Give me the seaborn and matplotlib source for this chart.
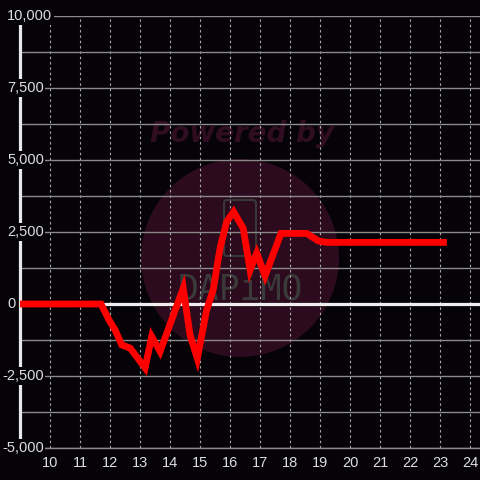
import matplotlib
matplotlib.use("Agg")
import matplotlib.pyplot as plt
import matplotlib.transforms as mtransforms
from matplotlib.patches import Circle, FancyBboxPatch
import seaborn as sns

# values
x_vals = [8.92, 11.70, 11.97, 12.17, 12.39, 12.67, 13.17, 13.39, 13.67, 14.44,
          14.67, 14.91, 15.22, 15.44, 15.67, 15.89, 16.12, 16.44, 16.67, 16.89,
          17.17, 17.70, 18.56, 18.94, 19.22, 23.23]
y_vals = [0, 0, -560, -900, -1420, -1530, -2220, -1130, -1650, 545,
          -1080, -1890, -210, 490, 1945, 2860, 3200, 2630, 1180, 1760,
          980, 2450, 2450, 2190, 2140, 2140]

x_ticks = list(range(10, 25))
y_grid = list(range(-5000, 10001, 1250))
y_labels = [-5000, -2500, 0, 2500, 5000, 7500, 10000]

bg = "#050307"
label_col = "#dddddd"

sns.set_theme(style="dark")
plt.rcParams["font.family"] = ["Liberation Sans", "DejaVu Sans"]

fig = plt.figure(figsize=(4.8, 4.8), dpi=100, facecolor=bg)
ax = fig.add_axes([20 / 480, 32 / 480, 460 / 480, 432 / 480])
ax.set_facecolor(bg)

# watermark
ax.add_patch(Circle((240 / 480, 1 - 258 / 480), 99 / 480, transform=fig.transFigure,
                    facecolor="#2b0b1d", edgecolor="none", zorder=0.2, clip_on=False))
ax.text(242 / 480, 1 - 134 / 480, "Powered by", transform=fig.transFigure,
        family="DejaVu Sans", fontsize=20, fontweight="bold", fontstyle="italic",
        color="#300d21", ha="center", va="center", zorder=0.3)
ax.add_patch(FancyBboxPatch((224 / 480, 1 - 256 / 480), 32 / 480, 56 / 480,
                            boxstyle="round,pad=0,rounding_size=0.006",
                            transform=fig.transFigure, facecolor="none",
                            edgecolor="#3a3a3a", lw=1.4, zorder=0.3))
ax.text(240 / 480, 1 - 289 / 480, "DAPiMO", transform=fig.transFigure,
        family="DejaVu Sans Mono", fontsize=25, color="#3a3a3a",
        ha="center", va="center", zorder=0.3)

sns.lineplot(x=x_vals, y=y_vals, ax=ax, color="#ff0000", linewidth=4.9,
             zorder=4, solid_joinstyle="miter", solid_capstyle="butt")

ax.set_xlim(9, 9 + 460 / 30)
ax.set_ylim(-5000, 10000)

ax.set_yticks(y_grid)
ax.set_yticklabels([])
ax.set_xticks(x_ticks)
ax.set_xticklabels([str(t) for t in x_ticks])
ax.tick_params(axis="x", length=0, pad=5.5, labelsize=10.5, labelcolor=label_col)
ax.tick_params(axis="y", length=0)
ax.set_axisbelow(True)
ax.yaxis.grid(True, color="#8a8a8a", lw=1, ls="-", zorder=0.5)
ax.xaxis.grid(True, color="#aaaaaa", lw=0.8, ls=(0, (2.2, 2.6)), zorder=0.5)

for side in ["top", "right"]:
    ax.spines[side].set_visible(False)
ax.spines["left"].set_color("#e8e8e8")
ax.spines["left"].set_linewidth(2.3)
ax.spines["left"].set_zorder(2)
ax.spines["bottom"].set_color("#8a8a8a")
ax.spines["bottom"].set_linewidth(1)

ax.axhline(0, color="#eeeeee", lw=2.3, zorder=3)

# y labels, left aligned on first digit, with black boxes over the axis line
trans = mtransforms.blended_transform_factory(ax.transAxes, ax.transData)
for v in y_labels:
    xpos = (2 - 20) / 460 if v < 0 else (7 - 20) / 460
    ax.text(xpos, v, f"{v:,}", transform=trans, ha="left", va="center",
            fontsize=10.5, color=label_col, zorder=6, clip_on=False,
            bbox=dict(facecolor=bg, edgecolor="none", pad=1.2))

fig.savefig("out.png", dpi=100, facecolor=bg)
